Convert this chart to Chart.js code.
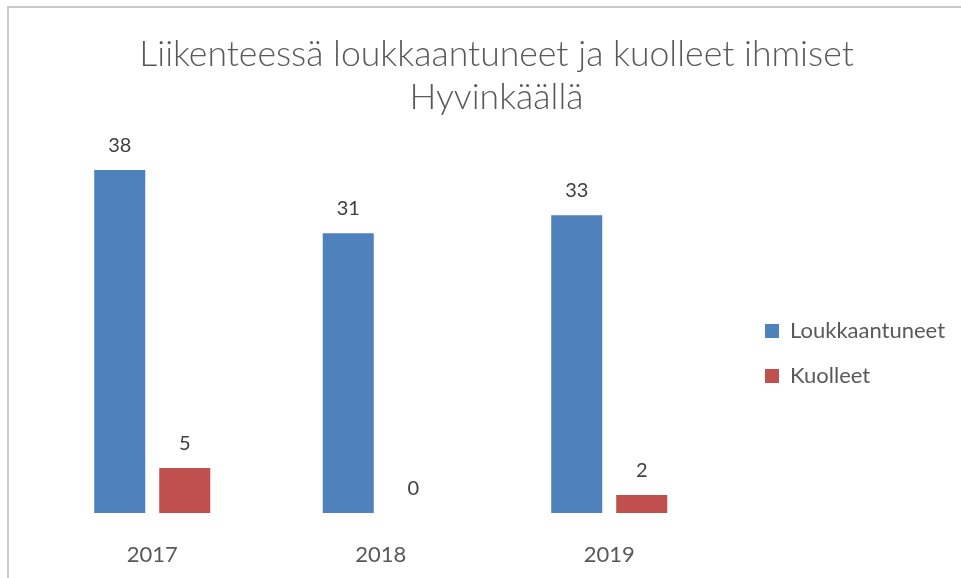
<!DOCTYPE html>
<html><head><meta charset="utf-8">
<script src="https://cdn.jsdelivr.net/npm/chart.js@4.4.1/dist/chart.umd.min.js"></script>
<style>
html,body{margin:0;padding:0;background:#fff;overflow:hidden;}
#frame{position:absolute;left:7px;top:6px;width:1200px;height:1200px;border-left:2px solid #c8c8c8;border-top:2px solid #c8c8c8;box-sizing:border-box;}
#wrap{position:absolute;left:0;top:0;width:961px;height:578px;}
</style></head><body>
<div id="frame"></div>
<div id="wrap"><canvas id="c"></canvas></div>
<script>
// ---- data ----
const categories = ['2017', '2018', '2019'];
const injured = [38, 31, 33];
const killed = [5, 0, 2];
const seriesNames = ['Loukkaantuneet', 'Kuolleet'];
const titleLines = ['Liikenteessä loukkaantuneet ja kuolleet ihmiset', 'Hyvinkäällä'];

// ---- layout helpers ----
const FONT = 'Lato';
const legendFontSize = 22;
const legendPad = 23;
const legendBox = 14;
const chartRight = 723.5;
const legendItemX = 765;
const spacer = legendItemX - legendPad - chartRight;

const mctx = document.createElement('canvas').getContext('2d');
mctx.font = legendFontSize + 'px ' + FONT;
const maxText = Math.max(...seriesNames.map(t => mctx.measureText(t).width));
const legendW = legendPad + legendBox + legendFontSize / 2 + maxText + 10;
let padRight = 961 - chartRight - spacer - legendW;

const valueLabels = {
  id: 'valueLabels',
  afterDatasetsDraw(chart) {
    const ctx = chart.ctx;
    ctx.save();
    ctx.font = '20px ' + FONT;
    ctx.fillStyle = '#404040';
    ctx.textAlign = 'center';
    ctx.textBaseline = 'alphabetic';
    chart.data.datasets.forEach((ds, i) => {
      chart.getDatasetMeta(i).data.forEach((bar, j) => {
        ctx.fillText(String(ds.data[j]), bar.x, bar.y - 18);
      });
    });
    ctx.restore();
  }
};

new Chart(document.getElementById('c'), {
  type: 'bar',
  data: {
    labels: categories,
    datasets: [
      { label: seriesNames[0], data: injured, backgroundColor: '#4F81BD', borderWidth: 0 },
      { label: seriesNames[1], data: killed, backgroundColor: '#C0504D', borderWidth: 0 }
    ]
  },
  options: {
    responsive: true,
    maintainAspectRatio: false,
    animation: false,
    devicePixelRatio: 1,
    categoryPercentage: 0.569,
    barPercentage: 0.785,
    layout: { padding: { left: 38, right: padRight, top: 0, bottom: 0 } },
    scales: {
      x: {
        grid: { display: false, drawTicks: false },
        border: { display: false },
        ticks: { color: '#595959', font: { family: FONT, size: 22 }, padding: 29 },
        afterFit(s) { s.height = 65; }
      },
      y: {
        display: false,
        min: 0,
        max: 40
      },
      gap: {
        type: 'linear',
        position: 'right',
        display: true,
        grid: { display: false, drawTicks: false },
        border: { display: false },
        ticks: { display: false },
        afterFit(s) { s.width = spacer; }
      }
    },
    plugins: {
      tooltip: { enabled: false },
      title: {
        display: true,
        text: titleLines,
        color: '#595959',
        font: { family: FONT, size: 35.6, weight: 300, lineHeight: 43 / 35.6 },
        padding: { top: 33.5, bottom: 32.5 }
      },
      legend: {
        position: 'right',
        fullSize: false,
        align: 'center',
        title: { display: true, text: '', font: { size: 10, lineHeight: 1.2 }, padding: 15 },
        labels: {
          color: '#595959',
          font: { family: FONT, size: legendFontSize },
          boxWidth: legendBox,
          boxHeight: legendBox,
          padding: legendPad
        }
      }
    }
  },
  plugins: [valueLabels]
});
</script>
</body></html>
